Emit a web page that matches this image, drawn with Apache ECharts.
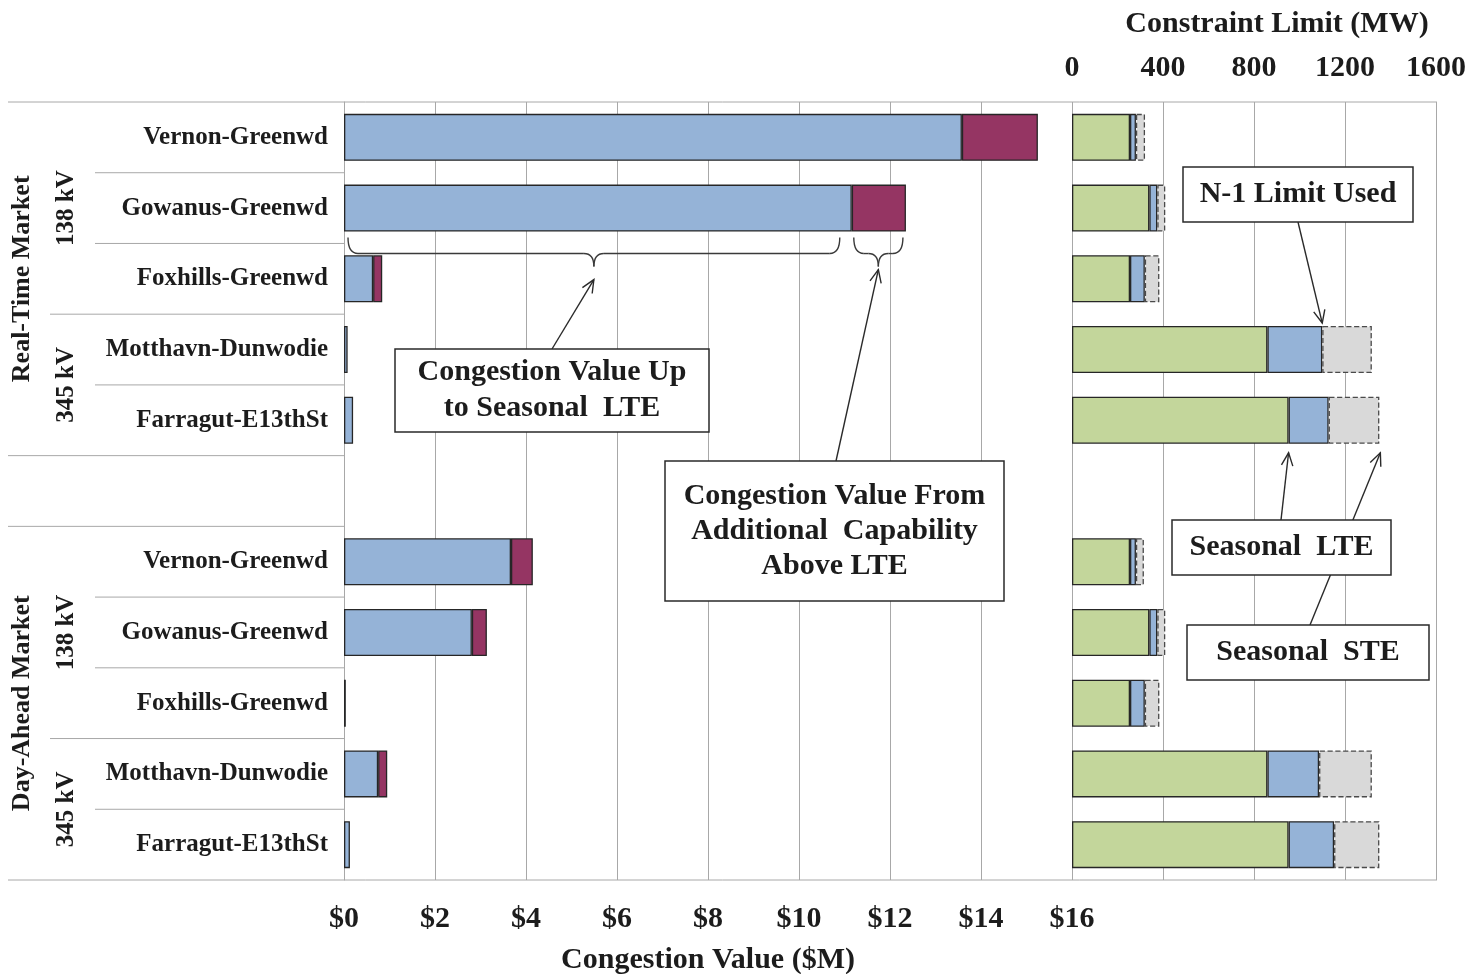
<!DOCTYPE html>
<html>
<head>
<meta charset="utf-8">
<script src="https://cdn.jsdelivr.net/npm/echarts@6/dist/echarts.min.js"></script>
<style>
html, body { margin: 0; padding: 0; background: #ffffff; }
#chart { width: 1482px; height: 974px; }
</style>
</head>
<body>
<div id="chart"></div>
<script>
// Constraint rows, top to bottom (blank row separates the two markets)
const rowLabels = [
  'Vernon-Greenwd', 'Gowanus-Greenwd', 'Foxhills-Greenwd', 'Motthavn-Dunwodie', 'Farragut-E13thSt',
  '',
  'Vernon-Greenwd', 'Gowanus-Greenwd', 'Foxhills-Greenwd', 'Motthavn-Dunwodie', 'Farragut-E13thSt'
];
const marketGroups = ['Real-Time Market', 'Day-Ahead Market'];
const voltageGroups = ['138 kV', '345 kV', '138 kV', '345 kV'];

// Congestion value ($M)
const congestionToLTE    = [13.58, 11.16, 0.64, 0.08, 0.20, null, 3.67, 2.81, 0.04, 0.75, 0.13];
const congestionAboveLTE = [1.67, 1.19, 0.20, null, null, null, 0.48, 0.33, null, 0.20, null];

// Constraint limit (MW): seasonal LTE, N-1 limit used above LTE, remaining up to seasonal STE
const limitLTE      = [255, 340, 255, 859, 952, null, 255, 340, 255, 859, 952];
const limitN1Extra  = [26, 35, 65, 241, 176, null, 26, 35, 65, 227, 200];
const limitSTEExtra = [40, 35, 64, 218, 223, null, 35, 35, 64, 232, 199];

// Axis ticks
const congestionTicks = [0, 2, 4, 6, 8, 10, 12, 14, 16];
const limitTicks = [0, 400, 800, 1200, 1600];

const FONT = "'Liberation Serif', 'Times New Roman', serif";
const INK = '#1c1c1c';
const GRID_GRAY = '#a8a8a8';
const EDGE = '#262626';

const chart = echarts.init(document.getElementById('chart'), null, { renderer: 'canvas' });

const option = {
  animation: false,
  backgroundColor: '#ffffff',
  textStyle: { fontFamily: FONT },
  grid: [
    { left: 344, top: 102, width: 728, height: 778, outerBoundsMode: 'none', containLabel: false },
    { left: 1072, top: 102, width: 364, height: 778, outerBoundsMode: 'none', containLabel: false }
  ],
  xAxis: [
    {
      gridIndex: 0, type: 'value', position: 'bottom',
      min: congestionTicks[0], max: congestionTicks[congestionTicks.length - 1],
      interval: congestionTicks[1] - congestionTicks[0],
      axisLine: { show: false }, axisTick: { show: false },
      splitLine: { show: true, lineStyle: { color: GRID_GRAY, width: 1 } },
      axisLabel: {
        formatter: v => '$' + v, fontFamily: FONT, fontWeight: 'bold',
        fontSize: 30, color: INK, margin: 24
      },
      name: 'Congestion Value ($M)', nameLocation: 'middle', nameGap: 65,
      nameTextStyle: { fontFamily: FONT, fontWeight: 'bold', fontSize: 30, color: INK }
    },
    {
      gridIndex: 1, type: 'value', position: 'top',
      min: limitTicks[0], max: limitTicks[limitTicks.length - 1],
      interval: limitTicks[1] - limitTicks[0],
      axisLine: { show: false }, axisTick: { show: false },
      splitLine: { show: true, lineStyle: { color: GRID_GRAY, width: 1 } },
      axisLabel: {
        formatter: v => String(v), fontFamily: FONT, fontWeight: 'bold',
        fontSize: 30, color: INK, margin: 19
      },
      name: 'Constraint Limit (MW)', nameLocation: 'middle', nameGap: 63,
      nameTextStyle: { fontFamily: FONT, fontWeight: 'bold', fontSize: 30, color: INK, padding: [0, 0, 0, 46] }
    }
  ],
  yAxis: [
    {
      gridIndex: 0, type: 'category', data: rowLabels, inverse: true,
      axisLine: { show: true, lineStyle: { color: GRID_GRAY, width: 1 } },
      axisTick: { show: false },
      axisLabel: { fontFamily: FONT, fontWeight: 'bold', fontSize: 25, color: INK, margin: 16 }
    },
    {
      gridIndex: 1, type: 'category', data: rowLabels, inverse: true,
      axisLine: { show: false }, axisTick: { show: false }, axisLabel: { show: false }
    }
  ],
  series: [
    {
      name: 'Congestion Value Up to Seasonal LTE', type: 'bar', stack: 'value',
      xAxisIndex: 0, yAxisIndex: 0, barWidth: 47, data: congestionToLTE,
      itemStyle: { color: '#95b3d7', borderColor: EDGE, borderWidth: 1.3 }
    },
    {
      name: 'Congestion Value Above LTE', type: 'bar', stack: 'value',
      xAxisIndex: 0, yAxisIndex: 0, barWidth: 47, data: congestionAboveLTE,
      itemStyle: { color: '#953563', borderColor: EDGE, borderWidth: 1.3 }
    },
    {
      name: 'Seasonal LTE', type: 'bar', stack: 'limit',
      xAxisIndex: 1, yAxisIndex: 1, barWidth: 47, data: limitLTE,
      itemStyle: { color: '#c3d69b', borderColor: EDGE, borderWidth: 1.3 }
    },
    {
      name: 'N-1 Limit Used', type: 'bar', stack: 'limit',
      xAxisIndex: 1, yAxisIndex: 1, barWidth: 47, data: limitN1Extra,
      itemStyle: { color: '#95b3d7', borderColor: EDGE, borderWidth: 1.3 }
    },
    {
      name: 'Seasonal STE', type: 'bar', stack: 'limit',
      xAxisIndex: 1, yAxisIndex: 1, barWidth: 47, data: limitSTEExtra,
      itemStyle: { color: '#d9d9d9', borderColor: '#4a4a4a', borderWidth: 1.3, borderType: 'dashed' }
    }
  ]
};

chart.setOption(option);

// ---- overlay: row dividers, group titles, callouts ----
const toPx = (gridIndex, x, row) => chart.convertToPixel({ gridIndex: gridIndex }, [x, row]);
const rowY = i => toPx(0, 0, i)[1];
const step = rowY(1) - rowY(0);
const halfBar = 47 / 2;
const sum = (arrs, i) => arrs.reduce((s, a) => s + (a[i] || 0), 0);

const LINE = { stroke: GRID_GRAY, lineWidth: 1 };
const DARK = { stroke: '#2a2a2a', lineWidth: 1.4, fill: null };
const graphics = [];

function hline(x1, x2, y, style) {
  graphics.push({ type: 'line', shape: { x1: x1, y1: y, x2: x2, y2: y }, style: style || LINE, z: 5 });
}

// frame top / bottom
const plotLeft = toPx(0, 0, 0)[0];
const plotRight = toPx(1, limitTicks[limitTicks.length - 1], 0)[0];
hline(8, plotRight + 1, rowY(0) - step / 2);
hline(8, plotRight + 1, rowY(10) + step / 2);

// dividers between rows in the label column
const dividerStart = [95, 95, 50, 95, 8, 8, 95, 95, 50, 95];
dividerStart.forEach((x, i) => hline(x, plotLeft, (rowY(i) + rowY(i + 1)) / 2));

function vtext(text, x, y, size) {
  graphics.push({
    type: 'text', x: x, y: y, rotation: Math.PI / 2, z: 6,
    style: {
      text: text, fill: INK, font: 'bold ' + size + 'px ' + FONT,
      textAlign: 'center', textVerticalAlign: 'middle'
    }
  });
}
vtext(marketGroups[0], 22, (rowY(0) + rowY(4)) / 2, 26);
vtext(marketGroups[1], 22, (rowY(6) + rowY(10)) / 2, 26);
vtext(voltageGroups[0], 67, (rowY(0) + rowY(2)) / 2, 25);
vtext(voltageGroups[1], 67, (rowY(3) + rowY(4)) / 2, 25);
vtext(voltageGroups[2], 67, (rowY(6) + rowY(8)) / 2, 25);
vtext(voltageGroups[3], 67, (rowY(9) + rowY(10)) / 2, 25);

function arrow(x1, y1, x2, y2) {
  graphics.push({ type: 'line', shape: { x1: x1, y1: y1, x2: x2, y2: y2 }, style: DARK, z: 8 });
  const a = Math.atan2(y2 - y1, x2 - x1);
  const len = 14, spread = 0.42;
  graphics.push({
    type: 'polyline', z: 8,
    shape: { points: [
      [x2 - len * Math.cos(a - spread), y2 - len * Math.sin(a - spread)],
      [x2, y2],
      [x2 - len * Math.cos(a + spread), y2 - len * Math.sin(a + spread)]
    ] },
    style: DARK
  });
}

// curly brace opening downward, built from quadratic curves and straight runs
function brace(x1, x2, yTop, depth) {
  const ym = yTop + depth * 0.55, yt = yTop + depth, xm = (x1 + x2) / 2;
  const r = Math.min(10, (x2 - x1) / 4);
  const st = { stroke: '#3a3a3a', lineWidth: 1.4, fill: null };
  const curve = (ax, ay, cx, cy, bx, by) => graphics.push({
    type: 'bezierCurve', z: 8, style: st,
    shape: { x1: ax, y1: ay, cpx1: cx, cpy1: cy, x2: bx, y2: by }
  });
  curve(x1, yTop, x1, ym, x1 + r, ym);
  graphics.push({ type: 'line', z: 8, style: st, shape: { x1: x1 + r, y1: ym, x2: xm - r, y2: ym } });
  curve(xm - r, ym, xm, ym, xm, yt);
  curve(xm, yt, xm, ym, xm + r, ym);
  graphics.push({ type: 'line', z: 8, style: st, shape: { x1: xm + r, y1: ym, x2: x2 - r, y2: ym } });
  curve(x2 - r, ym, x2, ym, x2, yTop);
  return [xm, yt];
}

function box(x, y, w, h, text, lineHeight) {
  graphics.push({
    type: 'rect', z: 9, shape: { x: x, y: y, width: w, height: h },
    style: { fill: '#ffffff', stroke: '#2a2a2a', lineWidth: 1.5 }
  });
  graphics.push({
    type: 'text', z: 10, x: x + w / 2, y: y + h / 2,
    style: {
      text: text, fill: INK, font: 'bold 30px ' + FONT,
      textAlign: 'center', textVerticalAlign: 'middle', lineHeight: lineHeight || 36
    }
  });
}

// braces under the real-time Gowanus-Greenwd bar
const gRow = 1;
const gBlueEnd = toPx(0, congestionToLTE[gRow], gRow)[0];
const gTotalEnd = toPx(0, sum([congestionToLTE, congestionAboveLTE], gRow), gRow)[0];
const braceTop = rowY(gRow) + halfBar + 6;
const tip1 = brace(plotLeft + 4, gBlueEnd - 12, braceTop, 29);
const tip2 = brace(gBlueEnd + 2, gTotalEnd - 3, braceTop, 29);

// callout arrows (drawn below the boxes)
arrow(552, 349, tip1[0], tip1[1] + 13);
arrow(836, 461, tip2[0], tip2[1] + 3);

const mRow = 3, fRow = 4;
const n1End = toPx(1, sum([limitLTE, limitN1Extra], mRow), mRow);
arrow(1298, 222, n1End[0], n1End[1] - halfBar - 3);
const lteEnd = toPx(1, limitLTE[fRow], fRow);
arrow(1281, 520, lteEnd[0], lteEnd[1] + halfBar + 9);
const steEnd = toPx(1, sum([limitLTE, limitN1Extra, limitSTEExtra], fRow), fRow);
arrow(1310, 625, steEnd[0] + 1, steEnd[1] + halfBar + 9);

box(395, 349, 314, 83, 'Congestion Value Up\nto Seasonal  LTE', 36);
box(665, 461, 339, 140, 'Congestion Value From\nAdditional  Capability\nAbove LTE', 35);
box(1183, 167, 230, 55, 'N-1 Limit Used');
box(1172, 520, 219, 55, 'Seasonal  LTE');
box(1187, 625, 242, 55, 'Seasonal  STE');

chart.setOption({ graphic: graphics });
</script>
</body>
</html>
